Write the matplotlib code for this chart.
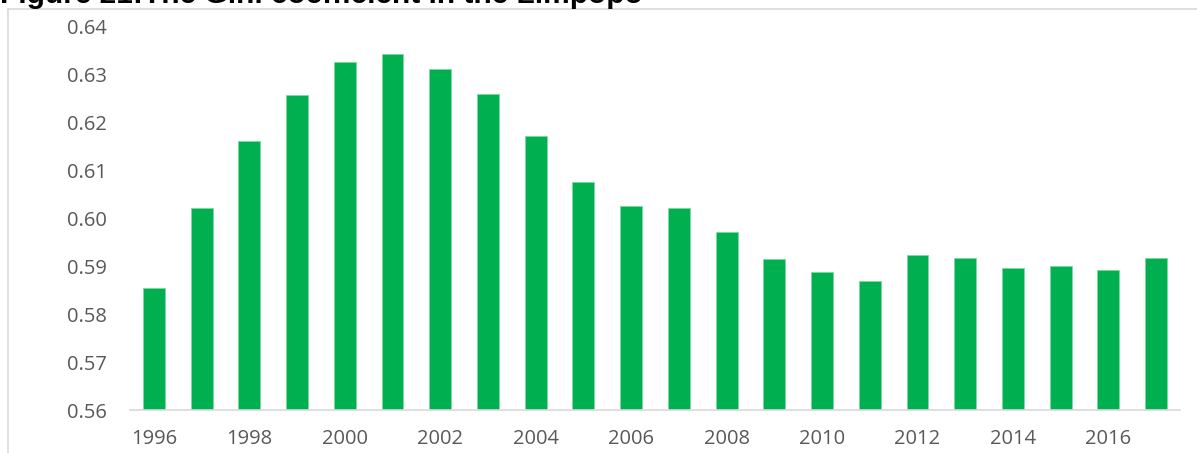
import matplotlib.pyplot as plt
from matplotlib.lines import Line2D

years = list(range(1996, 2018))
gini = [0.5855, 0.6022, 0.6162, 0.6258, 0.6327, 0.6343, 0.6312, 0.6260,
        0.6172, 0.6076, 0.6026, 0.6022, 0.5972, 0.5915, 0.5888, 0.5869,
        0.5924, 0.5917, 0.5896, 0.5901, 0.5892, 0.5917]
yticks = [0.56, 0.57, 0.58, 0.59, 0.60, 0.61, 0.62, 0.63, 0.64]
title = "Figure 21:The Gini coefficient in the Limpopo"

plt.rcParams['font.family'] = ['Open Sans', 'DejaVu Sans']

W, H = 1197, 453
fig = plt.figure(figsize=(W / 100, H / 100), dpi=100)
ax = fig.add_axes([130 / W, 1 - 410 / H, (1180 - 130) / W, (410 - 27) / H])

ax.bar(years, [g - 0.56 for g in gini], bottom=0.56, width=0.46,
       color="#00b050", edgecolor="#7fd8a0", linewidth=0.6)
ax.set_ylim(0.56, 0.64)
ax.set_xlim(years[0] - 0.5, years[-1] + 0.5)
ax.set_yticks(yticks)
ax.set_yticklabels(["%.2f" % v for v in yticks])
ax.set_xticks(years[::2])
ax.set_xticklabels([str(y) for y in years[::2]])
ax.tick_params(length=0, labelsize=14.5, labelcolor="#595959")
ax.tick_params(axis="y", pad=16.5)
ax.tick_params(axis="x", pad=14)
for s in ["top", "right", "left"]:
    ax.spines[s].set_visible(False)
ax.spines["bottom"].set_color("#d9d9d9")
ax.spines["bottom"].set_linewidth(1.2)

# chart border
fig.add_artist(Line2D([8 / W, 8 / W], [0, 1 - 9 / H], color="#d9d9d9", lw=1.2))
fig.add_artist(Line2D([8 / W, 1], [1 - 9 / H, 1 - 9 / H], color="#d9d9d9", lw=1.2))

# title sits partly above the top edge, as in the source crop
fig.text(0 / W, 1 - 3 / H, title, fontsize=21.5, fontweight="bold",
         family="Liberation Sans", color="black", va="baseline", ha="left")

fig.savefig("out.png", dpi=100)
